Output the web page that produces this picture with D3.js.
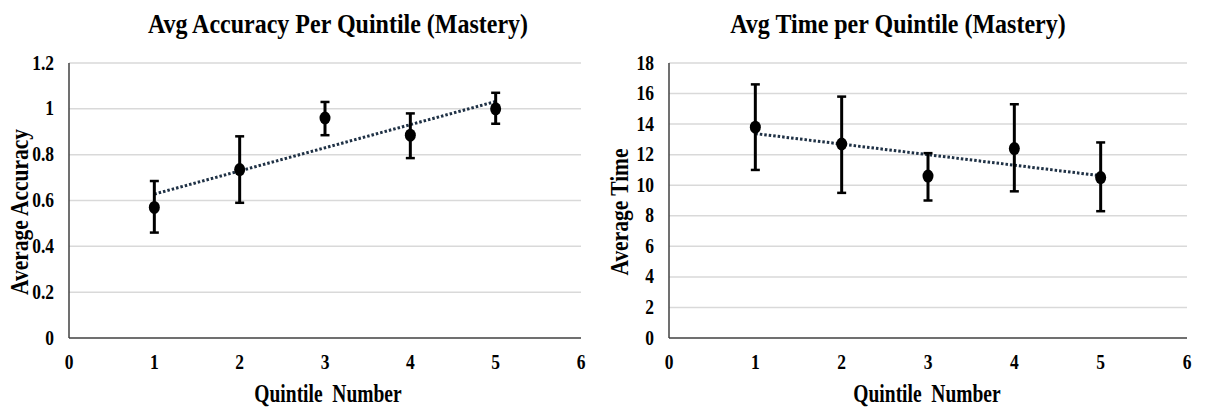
<!DOCTYPE html>
<html>
<head>
<meta charset="utf-8">
<script src="https://d3js.org/d3.v7.min.js"></script>
<style>
  body { margin: 0; background: #fff; }
  svg text { font-family: "Liberation Serif", "Times New Roman", serif; font-weight: bold; fill: #000; }
</style>
</head>
<body>
<svg id="chart" width="1205" height="409"></svg>
<script>
// quintiles shared by both panels
const quintiles = [1, 2, 3, 4, 5];

// left panel: accuracy
const acc_mean = [0.57, 0.735, 0.96, 0.885, 1.0];
const acc_lo = [0.46, 0.59, 0.885, 0.785, 0.935];
const acc_hi = [0.685, 0.88, 1.03, 0.98, 1.07];
const acc_ticks = [0, 0.2, 0.4, 0.6, 0.8, 1, 1.2];

// right panel: time
const time_mean = [13.8, 12.7, 10.6, 12.4, 10.5];
const time_lo = [11.0, 9.5, 9.0, 9.6, 8.3];
const time_hi = [16.6, 15.8, 12.1, 15.3, 12.8];
const time_ticks = [0, 2, 4, 6, 8, 10, 12, 14, 16, 18];

const x_ticks = [0, 1, 2, 3, 4, 5, 6];

const panels = [
    { title: "Avg Accuracy Per Quintile (Mastery)", ylab: "Average Accuracy",
      mean: acc_mean, lo: acc_lo, hi: acc_hi, yticks: acc_ticks, ymax: 1.2,
      left: 69, right: 581, tx: 338, xl: 328 },
    { title: "Avg Time per Quintile (Mastery)", ylab: "Average Time",
      mean: time_mean, lo: time_lo, hi: time_hi, yticks: time_ticks, ymax: 18,
      left: 669, right: 1187, tx: 898, xl: 927 }
];
const top_y = 63, bot_y = 338;

const svg = d3.select("#chart");

// least squares fit for the trendline
function fit(xs, ys) {
    var mx = d3.mean(xs), my = d3.mean(ys);
    var b = d3.sum(xs, (x, i) => (x - mx) * (ys[i] - my)) / d3.sum(xs, x => (x - mx) * (x - mx));
    return x => my + b * (x - mx);
}

panels.forEach(function (p) {
    var xs = d3.scaleLinear().domain([0, 6]).range([p.left, p.right]);
    var ys = d3.scaleLinear().domain([0, p.ymax]).range([bot_y, top_y]);
    var g = svg.append("g");

    // grid
    g.selectAll(".grid").data(p.yticks.filter(d => d > 0)).join("line")
        .attr("x1", p.left).attr("x2", p.right)
        .attr("y1", d => ys(d)).attr("y2", d => ys(d))
        .attr("style", "stroke:#d9d9d9; stroke-width:1.5");

    // axes
    g.append("line").attr("x1", p.left).attr("x2", p.left).attr("y1", top_y).attr("y2", bot_y)
        .attr("style", "stroke:#404040; stroke-width:1.5");
    g.append("line").attr("x1", p.left).attr("x2", p.right).attr("y1", bot_y).attr("y2", bot_y)
        .attr("style", "stroke:#404040; stroke-width:1.5");

    // tick labels (tall, narrow bold serif in the source)
    g.selectAll(".ytl").data(p.yticks).join("text")
        .attr("transform", d => "translate(" + (p.left - 15) + "," + (ys(d) + 6.5) + ") scale(1,1.15)")
        .attr("text-anchor", "end").attr("font-size", 17.5).text(d => d);
    g.selectAll(".xtl").data(x_ticks).join("text")
        .attr("transform", d => "translate(" + xs(d) + ",368.5) scale(1,1.15)")
        .attr("text-anchor", "middle").attr("font-size", 17.5).text(d => d);

    // titles
    g.append("text").attr("transform", "translate(" + p.tx + ",33) scale(1,1.1)")
        .attr("text-anchor", "middle").attr("font-size", 24).text(p.title);
    g.append("text").attr("transform", "translate(" + p.xl + ",402) scale(1,1.25)")
        .attr("text-anchor", "middle").attr("font-size", 19.5).attr("xml:space", "preserve")
        .text("Quintile  Number");
    g.append("text")
        .attr("transform", "translate(" + (p.left - 41) + ",212) rotate(-90) scale(1,1.18)")
        .attr("text-anchor", "middle").attr("font-size", 21.5).text(p.ylab);

    // trendline
    var f = fit(quintiles, p.mean);
    g.append("line")
        .attr("x1", xs(1)).attr("y1", ys(f(1)))
        .attr("x2", xs(5)).attr("y2", ys(f(5)))
        .attr("style", "stroke:#1f3145; stroke-width:3; stroke-dasharray:2.5,2");

    // error bars
    var pts = quintiles.map((q, i) => ({ q: q, m: p.mean[i], lo: p.lo[i], hi: p.hi[i] }));
    g.selectAll(".err").data(pts).join("line")
        .attr("x1", d => xs(d.q)).attr("x2", d => xs(d.q))
        .attr("y1", d => ys(d.lo)).attr("y2", d => ys(d.hi))
        .attr("style", "stroke:#000; stroke-width:3");
    g.selectAll(".capl").data(pts).join("line")
        .attr("x1", d => xs(d.q) - 4.5).attr("x2", d => xs(d.q) + 4.5)
        .attr("y1", d => ys(d.lo)).attr("y2", d => ys(d.lo))
        .attr("style", "stroke:#000; stroke-width:2.5");
    g.selectAll(".caph").data(pts).join("line")
        .attr("x1", d => xs(d.q) - 4.5).attr("x2", d => xs(d.q) + 4.5)
        .attr("y1", d => ys(d.hi)).attr("y2", d => ys(d.hi))
        .attr("style", "stroke:#000; stroke-width:2.5");

    // points
    g.selectAll(".pt").data(pts).join("ellipse")
        .attr("cx", d => xs(d.q)).attr("cy", d => ys(d.m))
        .attr("rx", 5.5).attr("ry", 6.5)
        .attr("style", "fill:#000");
});
</script>
</body>
</html>
